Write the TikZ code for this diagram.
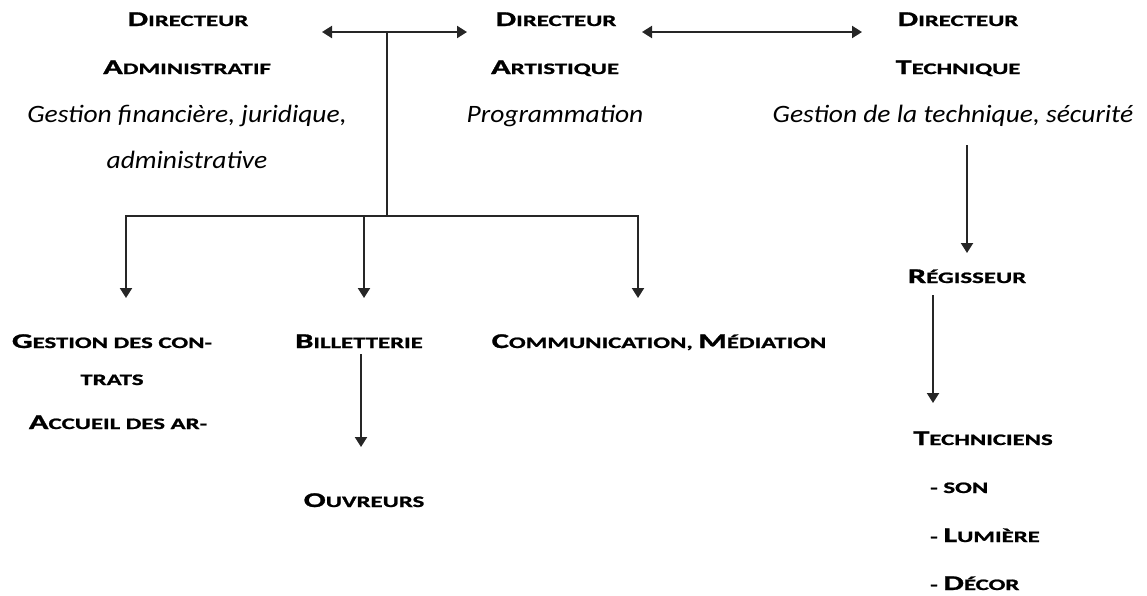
\documentclass[tikz,border=0pt]{standalone}
\usepackage{fontspec}
\usetikzlibrary{arrows.meta}
\newfontfamily\scf{Carlito}[FakeStretch=1.55,FakeBold=1.2]
\newfontfamily\itf{Carlito}[FakeStretch=1.1]
\newcommand\bg[1]{{\fontsize{21}{24}\selectfont #1}}
\tikzset{
 sc/.style={font=\scf\bfseries\fontsize{16}{20}\selectfont, inner sep=0pt, anchor=base},
 scl/.style={sc, anchor=base west},
 itx/.style={font=\itf\itshape\fontsize{25}{30}\selectfont, inner sep=0pt, anchor=base},
 conn/.style={draw=black!85, line width=2.1pt},
 arr/.style={conn, -{Triangle[width=12pt,length=10pt]}},
 darr/.style={conn, {Triangle[width=12pt,length=10pt]}-{Triangle[width=12pt,length=10pt]}},
}
\begin{document}
\begin{tikzpicture}[x=1pt,y=-1pt]
\useasboundingbox (0,0) rectangle (1147,595);
% top row
\node[sc] (adm1) at (188,26) {\bg{D}IRECTEUR};
\node[sc] (adm2) at (187,74) {\bg{A}DMINISTRATIF};
\node[itx] (adm3) at (187,122) {Gestion financière, juridique,};
\node[itx] (adm4) at (187,168) {administrative};
\node[sc] (art1) at (556,26) {\bg{D}IRECTEUR};
\node[sc] (art2) at (555,74) {\bg{A}RTISTIQUE};
\node[itx] (art3) at (555,122) {Programmation};
\node[sc] (tec1) at (958,26) {\bg{D}IRECTEUR};
\node[sc] (tec2) at (958,74) {\bg{T}ECHNIQUE};
\node[itx] (tec3) at (953,122) {Gestion de la technique, sécurité};
% second level
\node[sc] (ges1) at (112,348) {\bg{G}ESTION DES CON-};
\node[sc] (ges2) at (112,385) {TRATS};
\node[sc] (ges3) at (118,429) {\bg{A}CCUEIL DES AR-};
\node[sc] (bil) at (359,348) {\bg{B}ILLETTERIE};
\node[sc] (com) at (659,348) {\bg{C}OMMUNICATION, \bg{M}ÉDIATION};
\node[sc] (ouv) at (364,507) {\bg{O}UVREURS};
\node[sc] (reg) at (967,283) {\bg{R}ÉGISSEUR};
\node[sc] (tcn) at (983,445) {\bg{T}ECHNICIENS};
\node[scl] (son) at (930,493) {- SON};
\node[scl] (lum) at (930,542) {- \bg{L}UMIÈRE};
\node[scl] (dec) at (930,590) {- \bg{D}ÉCOR};
% connector points
\coordinate (aL) at (322,32);
\coordinate (aR) at (467,32);
\coordinate (bL) at (642,32);
\coordinate (bR) at (862,32);
\coordinate (j1) at (387,32);
\coordinate (j2) at (387,216);
\coordinate (gT) at (126,298);
\coordinate (b0) at (364,216);
\coordinate (bT) at (364,298);
\coordinate (cT) at (638,298);
\coordinate (o0) at (361,354);
\coordinate (oT) at (361,447);
\coordinate (t0) at (967,145);
\coordinate (tT) at (967,253);
\coordinate (r0) at (933,295);
\coordinate (rT) at (933,403);
% connectors
\draw[darr] (aL) -- (aR);
\draw[darr] (bL) -- (bR);
\draw[conn] (j1) -- (j2);
\draw[arr] (j2) -| (gT);
\draw[arr] (j2) -| (cT);
\draw[arr] (b0) -- (bT);
\draw[arr] (o0) -- (oT);
\draw[arr] (t0) -- (tT);
\draw[arr] (r0) -- (rT);
\end{tikzpicture}
\end{document}
